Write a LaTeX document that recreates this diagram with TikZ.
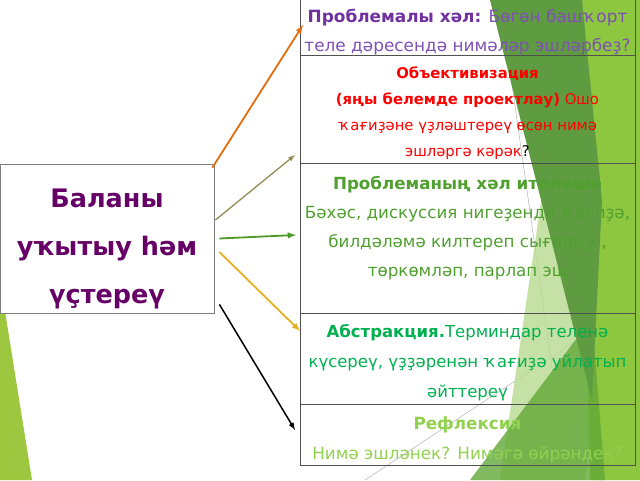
\documentclass[tikz,border=0pt]{standalone}
\usepackage{fontspec}
\setmainfont{DejaVu Sans}
\usetikzlibrary{positioning}
\definecolor{plum}{HTML}{660066}
\definecolor{violet}{HTML}{7030A0}
\definecolor{lilac}{HTML}{7F50B5}
\definecolor{grassgreen}{HTML}{50A030}
\definecolor{mintgreen}{HTML}{00B050}
\definecolor{limegreen}{HTML}{92D050}
\definecolor{leafgreen}{HTML}{9DC73F}
\definecolor{darkleaf}{HTML}{5F9B40}
\definecolor{midleaf}{HTML}{62A838}
\definecolor{paleleaf}{HTML}{B8DA8E}
\definecolor{brightleaf}{HTML}{8DC63F}
\definecolor{boxgray}{HTML}{808080}
\definecolor{rulegray}{HTML}{505050}
\definecolor{arrorange}{HTML}{E46C0A}
\definecolor{arrtan}{HTML}{948A54}
\definecolor{arrgreen}{HTML}{4E9A27}
\definecolor{arrgold}{HTML}{E6B020}

\begin{document}
\begin{tikzpicture}[x=1pt, y=1pt, node distance=0pt,
	cell/.style={draw=rulegray, line width=1pt, minimum width=335pt, inner sep=0pt, outer sep=0pt},
	txt/.style={align=center, inner sep=0pt},
	shade/.style={opacity=0.8}]
	\useasboundingbox (0,0) rectangle (640,480);

	% leaves in the background
	\fill[leafgreen] (0,200) -- (32,0) -- (0,0) -- cycle;
	\draw[black!30, line width=0.5pt] (500,480) -- (568,0);
	\draw[black!30, line width=0.5pt] (365,0) -- (585,145);
	\fill[paleleaf, shade] (545,305) -- (595,80) -- (585,0) -- (500,0) -- cycle;
	\fill[brightleaf] (580,480) -- (640,480) -- (640,0) -- (590,0) -- cycle;
	\fill[midleaf, shade] (470,0) -- (592,162) -- (605,0) -- cycle;
	\fill[darkleaf] (490,480) -- (582,480) -- (602,280) -- (592,80) -- cycle;

	\node[draw=boxgray, fill=white, line width=0.8pt, minimum width=214pt, minimum height=149pt, inner sep=0pt] (0) at (107,241.5) {};
	\node[txt, text=plum, font=\fontsize{25.5}{48}\selectfont\bfseries] (t0) at ([yshift=-10pt]0) {Баланы\\уҡытыу һәм\\үҫтереү};

	% table
	\node[cell, anchor=north west, minimum height=57pt] (1) at (300,481) {};
	\node[cell, minimum height=108pt, below=of 1] (2) {};
	\node[cell, minimum height=149pt, below=of 2] (3) {};
	\node[cell, minimum height=91pt, below=of 3] (4) {};
	\node[cell, minimum height=61pt, below=of 4] (5) {};

	\node[txt, text=lilac, font=\fontsize{16.9}{29}\selectfont] (t1) at ([yshift=-5pt]1)
		{{\color{violet}\bfseries Проблемалы хәл:} Бөгөн башҡорт\\теле дәресендә нимәләр эшләрбеҙ?};
	\node[txt, text=red, font=\fontsize{14.8}{26}\selectfont] (t2) at ([yshift=-3.5pt]2)
		{\textbf{Объективизация}\\\textbf{(яңы белемде проектлау)} Ошо\\ҡағиҙәне үҙләштереү өсөн нимә\\эшләргә кәрәк{\color{black}?}};
	\node[txt, text=grassgreen, font=\fontsize{16.7}{29}\selectfont] (t3) at ([yshift=10.5pt]3)
		{\textbf{Проблеманың хәл ителеше}\\Бәхәс, дискуссия нигеҙендә ҡағиҙә,\\билдәләмә килтереп сығарыу ,\\төркөмләп, парлап эш};
	\node[txt, text=mintgreen, font=\fontsize{16.5}{30}\selectfont] (t4) at ([yshift=-4.5pt]4)
		{\textbf{Абстракция.}Терминдар теленә\\күсереү, үҙҙәренән ҡағиҙә уйлатып\\әйттереү};
	\node[txt, text=limegreen, font=\fontsize{16.8}{30}\selectfont] (t5) at ([yshift=-5.5pt]5)
		{\textbf{Рефлексия}\\Нимә эшләнек? Нимәгә өйрәндек?};

	\path[-latex, line width=1.3pt]
		([xshift=-2pt,yshift=-4pt]0.north east) edge[arrorange, line width=1.8pt] ([xshift=3pt,yshift=2.5pt]1.west)
		([xshift=1pt,yshift=18.5pt]0.east) edge[arrtan] ([xshift=-5pt,yshift=9pt]2.south west)
		([xshift=5pt]0.east) edge[arrgreen, line width=1.8pt] ([xshift=-4pt,yshift=3.5pt]3.west)
		([xshift=5pt,yshift=-13.5pt]0.east) edge[arrgold, line width=1.8pt] ([yshift=-18pt]4.north west)
		([xshift=5pt,yshift=9pt]0.south east) edge[black, line width=1.5pt] ([xshift=-5pt,yshift=4.5pt]5.west);
\end{tikzpicture}
\end{document}
